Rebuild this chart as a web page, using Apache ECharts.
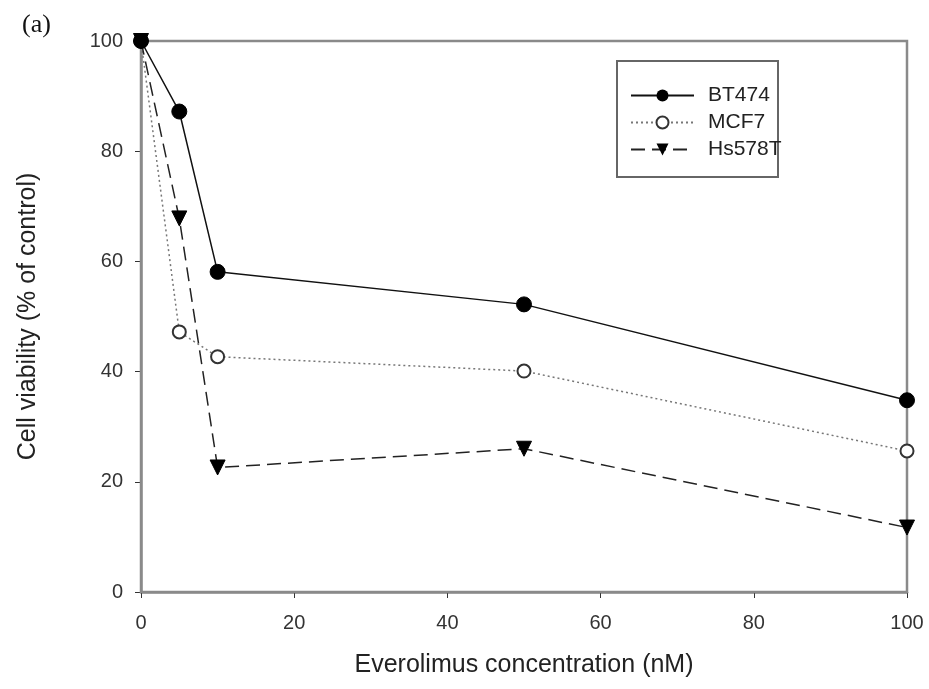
<!DOCTYPE html>
<html>
<head>
<meta charset="utf-8">
<script src="https://cdn.jsdelivr.net/npm/echarts@6/dist/echarts.min.js"></script>
<style>
  html, body { margin: 0; padding: 0; background: #fff; }
  #chart { width: 929px; height: 689px; }
</style>
</head>
<body>
<div id="chart"></div>
<script>
// concentrations (nM) and viability (% of control)
const conc = [0, 5, 10, 50, 100];
const bt474 = [100, 87.2, 58.1, 52.2, 34.8];
const mcf7 = [100, 47.2, 42.7, 40.1, 25.6];
const hs578t = [100, 67.8, 22.6, 26.0, 11.7];
const xTicks = [0, 20, 40, 60, 80, 100];
const yTicks = [0, 20, 40, 60, 80, 100];

function pairs(ys) {
    return conc.map(function (x, i) { return [x, ys[i]]; });
}

let myChart = echarts.init(document.getElementById('chart'));
window.onresize = function () {
    myChart.resize();
}

const axisGray = '#8a8a8a';
const font = 'Liberation Sans, Arial, sans-serif';

let option = {
    animation: false,
    backgroundColor: '#fff',
    grid: { left: 141, top: 41, right: 22, bottom: 97 },
    graphic: [
        {
            type: 'text', left: 22, top: 12,
            style: { text: '(a)', font: '26px "Liberation Serif", "Times New Roman", serif', fill: '#111' }
        },
        // frame around the plot
        {
            type: 'rect', shape: { x: 141, y: 41, width: 766, height: 551 },
            style: { fill: 'none', stroke: axisGray, lineWidth: 2.5 }, silent: true, z: 1
        },
        // legend box
        {
            type: 'rect', shape: { x: 617, y: 61, width: 161, height: 116 },
            style: { fill: '#fff', stroke: '#666', lineWidth: 2 }, silent: true, z: 6
        }
    ],
    legend: {
        orient: 'vertical',
        left: 630, top: 85,
        padding: 0,
        itemGap: 6,
        itemWidth: 63,
        itemHeight: 15,
        z: 10,
        textStyle: { fontFamily: font, fontSize: 21, lineHeight: 21, color: '#222', padding: [0, 0, 0, 9] },
        data: ['BT474', 'MCF7', 'Hs578T']
    },
    xAxis: {
        type: 'value',
        min: 0, max: 100, interval: 20,
        name: 'Everolimus concentration (nM)',
        nameLocation: 'middle',
        nameGap: 61,
        nameTextStyle: { fontFamily: font, fontSize: 25, color: '#222' },
        axisLine: { lineStyle: { color: axisGray, width: 2.5 } },
        axisTick: { show: true, length: 6, lineStyle: { color: '#333' } },
        axisLabel: {
            fontFamily: font, fontSize: 20, color: '#333', margin: 21,
            formatter: function (v) { return xTicks.indexOf(v) >= 0 ? String(v) : ''; }
        },
        splitLine: { show: false }
    },
    yAxis: {
        type: 'value',
        min: 0, max: 100, interval: 20,
        name: 'Cell viability (% of control)',
        nameLocation: 'middle',
        nameGap: 100,
        nameTextStyle: { fontFamily: font, fontSize: 25, color: '#222' },
        axisLine: { lineStyle: { color: axisGray, width: 2.5 } },
        axisTick: { show: true, length: 6, lineStyle: { color: '#333' } },
        axisLabel: {
            fontFamily: font, fontSize: 20, color: '#333', margin: 18,
            formatter: function (v) { return yTicks.indexOf(v) >= 0 ? String(v) : ''; }
        },
        splitLine: { show: false }
    },
    series: [
        {
            name: 'BT474', type: 'line', data: pairs(bt474), z: 5,
            symbol: 'circle', symbolSize: 15,
            lineStyle: { color: '#111', width: 1.5, type: 'solid' },
            itemStyle: { color: '#000', borderColor: '#000' }
        },
        {
            name: 'MCF7', type: 'line', data: pairs(mcf7), z: 3,
            symbol: 'circle', symbolSize: 13,
            lineStyle: { color: '#777', width: 1.5, type: [2, 3] },
            itemStyle: { color: '#fff', borderColor: '#333', borderWidth: 2 }
        },
        {
            name: 'Hs578T', type: 'line', data: pairs(hs578t), z: 4,
            symbol: 'triangle', symbolRotate: 180, symbolSize: 15,
            lineStyle: { color: '#222', width: 1.5, type: [14, 7] },
            itemStyle: { color: '#000', borderColor: '#000' }
        }
    ]
};
myChart.setOption(option);
</script>
</body>
</html>
